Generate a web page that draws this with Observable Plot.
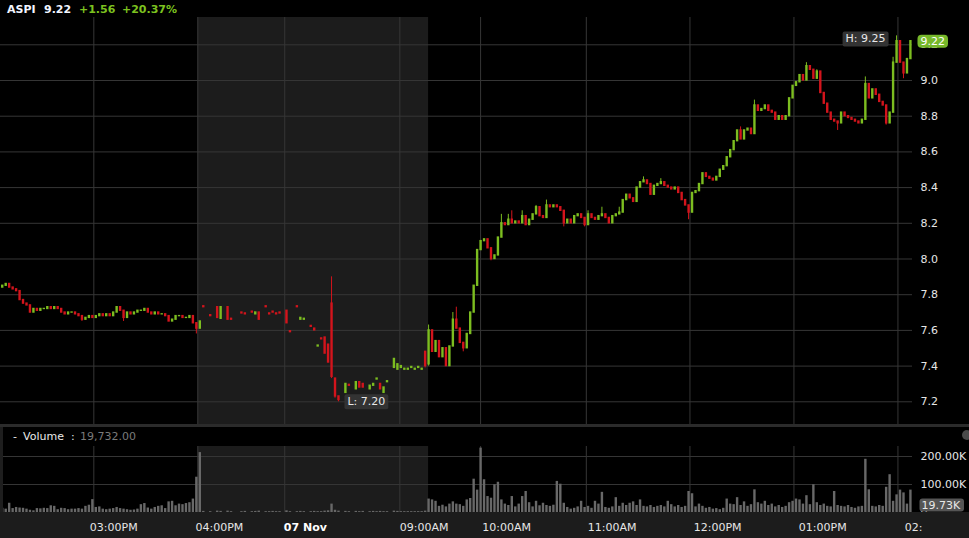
<!DOCTYPE html>
<html>
<head>
<meta charset="utf-8">
<script src="https://cdn.jsdelivr.net/npm/d3@7"></script>
<script src="https://cdn.jsdelivr.net/npm/@observablehq/plot@0.6"></script>
<style>
  html, body { margin: 0; padding: 0; background: #000; }
  #root { position: relative; width: 969px; height: 538px; background: #000; overflow: hidden;
          font-family: "DejaVu Sans", Verdana, sans-serif; }
  #hdr span { position: absolute; top: 1px; line-height: 17px; font-size: 11px; font-weight: bold; white-space: pre; }
  .sym { color: #f2f5ff; }
  .chg { color: #7cc21f; }
  #volhdr span { position: absolute; top: 427px; line-height: 20px; font-size: 11px; white-space: pre; }
</style>
</head>
<body>
<div id="root">
  <div id="hdr">
    <span class="sym" style="left:7px">ASPI</span>
    <span class="sym" style="left:44px">9.22</span>
    <span class="chg" style="left:79px">+1.56</span>
    <span class="chg" style="left:122px">+20.37%</span>
  </div>
  <div id="price" style="position:absolute;left:0;top:17px"></div>
  <div style="position:absolute;left:0;top:424px;width:969px;height:3px;background:#2b2b2b"></div>
  <div id="vol" style="position:absolute;left:0;top:427px"></div>
  <div id="xax" style="position:absolute;left:0;top:512px"></div>
  <div style="position:absolute;left:0;top:427px;width:3px;height:85px;background:#1e1e1e"></div>
  <div id="volhdr">
    <span style="left:13px;color:#e8e8e8">-</span>
    <span style="left:23px;color:#e8e8e8">Volume</span>
    <span style="left:71px;color:#e8e8e8">:</span>
    <span style="left:80px;color:#7a7a7a">19,732.00</span>
  </div>
  <div style="position:absolute;left:962px;top:430px;width:10px;height:10px;border-radius:50%;background:#4a4a4a"></div>
</div>
<script>
// ---------------- DATA ----------------
// x positions are bar slots (2‑minute bars on the chart's index axis)
const session1Start = 0;
const session1Open = 7.84;
const session1Close = [7.85,7.86,7.84,7.83,7.82,7.77,7.75,7.74,7.70,7.72,
  7.71,7.72,7.72,7.73,7.72,7.73,7.72,7.70,7.69,7.70,
  7.70,7.69,7.68,7.66,7.67,7.68,7.67,7.68,7.69,7.68,
  7.69,7.68,7.70,7.73,7.71,7.67,7.70,7.69,7.70,7.71,
  7.71,7.72,7.70,7.69,7.70,7.69,7.69,7.68,7.65,7.66,
  7.68,7.68,7.67,7.67,7.68,7.64,7.61,7.65];
const session1Volume = [15,12,33,14,18,16,15,12,8,6,14,13,15,14,24,22,10,15,14,10,
  12,12,14,12,22,26,46,18,20,12,10,12,14,18,14,12,10,8,9,12,
  28,32,16,12,18,22,24,14,38,40,24,30,28,32,35,48,126,214];

// after-hours sparse trades: [slot, open, close, high, low]
const afterHours = [
  [58,7.735,7.73],[60,7.685,7.68],[62,7.73,7.67],[63,7.665,7.73],[65,7.73,7.66],[66,7.665,7.66],
  [69,7.70,7.695],[70,7.695,7.69],[72,7.705,7.70],[73,7.69,7.70],[74,7.70,7.66],[76,7.735,7.73],
  [77,7.695,7.69],[78,7.705,7.70],[79,7.695,7.69],[80,7.70,7.695],[82,7.71,7.64],[83,7.595,7.59],
  [85,7.735,7.73],[86,7.66,7.67],[87,7.66,7.665],[89,7.625,7.62],[90,7.61,7.60],[91,7.51,7.515],
  [92,7.555,7.55],[93,7.56,7.47],[94,7.52,7.42],[95,7.75,7.34,7.90,7.33],[96,7.33,7.23,7.33,7.22],
  [97,7.23,7.21,7.23,7.20],[99,7.25,7.30],[100,7.295,7.29],[102,7.27,7.31],[103,7.31,7.28],
  [104,7.30,7.28],[106,7.27,7.29],[107,7.29,7.30],[108,7.325,7.33],[109,7.30,7.27],[110,7.25,7.28],
  [111,7.31,7.315],[113,7.39,7.44],[114,7.38,7.41],[115,7.39,7.40],[116,7.38,7.385],[117,7.38,7.385],
  [118,7.39,7.395],[119,7.38,7.385],[120,7.39,7.395],[121,7.38,7.385],[122,7.48,7.40,7.48,7.39]
];
const afterHoursVolume = [[58,4],[60,3],[62,5],[63,4],[65,5],[66,3],[69,3],[70,4],[72,3],[73,4],[74,5],
  [76,3],[77,3],[78,4],[79,3],[80,3],[82,6],[83,3],[85,3],[86,4],[87,3],[89,3],[90,4],[91,3],[92,3],
  [93,5],[94,6],[95,30],[96,8],[97,5],[99,4],[100,3],[102,4],[103,3],[104,4],[106,3],[107,4],[108,3],
  [109,4],[110,3],[111,3],[113,5],[114,4],[115,3],[116,3],[117,3],[118,3],[119,3],[120,3],[121,3],[122,5]];

const session2Start = 123;
const session2Open = 7.41;
const session2Close = [7.60,7.48,7.54,7.45,7.50,7.40,7.51,7.66,7.61,7.53,
  7.50,7.58,7.70,7.85,8.05,8.10,8.11,8.06,8.00,8.02,
  8.12,8.20,8.19,8.22,8.20,8.21,8.20,8.24,8.19,8.22,
  8.25,8.29,8.24,8.23,8.30,8.29,8.30,8.29,8.27,8.20,
  8.22,8.20,8.24,8.25,8.23,8.19,8.25,8.23,8.22,8.24,
  8.25,8.23,8.20,8.24,8.25,8.26,8.33,8.36,8.34,8.32,
  8.40,8.43,8.44,8.42,8.36,8.41,8.42,8.43,8.41,8.40,
  8.39,8.40,8.37,8.33,8.30,8.26,8.37,8.38,8.42,8.48,
  8.46,8.45,8.44,8.46,8.50,8.52,8.57,8.61,8.66,8.72,
  8.67,8.72,8.73,8.70,8.86,8.83,8.84,8.86,8.83,8.82,
  8.78,8.80,8.78,8.80,8.90,8.97,8.99,9.03,9.00,9.08,
  9.06,9.01,9.05,8.93,8.87,8.82,8.78,8.77,8.76,8.82,
  8.80,8.79,8.78,8.77,8.76,8.78,8.98,8.90,8.95,8.92,
  8.88,8.86,8.76,8.82,9.10,9.22,9.10,9.04,9.12,9.22];
const session2Volume = [48,45,40,22,26,20,30,38,30,28,
  22,45,50,119,80,230,117,57,51,99,
  108,45,30,25,57,20,30,57,75,35,
  20,40,24,33,25,22,26,111,101,33,
  18,12,15,20,40,18,22,15,40,30,
  72,18,15,20,53,22,33,25,33,38,
  25,45,22,20,25,18,22,25,20,40,
  28,20,25,18,22,75,67,20,30,22,
  15,18,12,14,10,15,48,30,28,53,
  25,38,22,28,81,35,30,40,25,30,
  20,25,18,22,35,40,48,45,30,60,
  28,99,35,25,30,22,20,75,25,22,
  20,25,18,15,20,22,190,81,22,20,
  25,22,90,135,40,63,80,70,30,80];

// wick extremes that reach beyond the bodies: [slot, high, low]
const wickExtremes = [[23,null,7.65],[35,null,7.65],[56,null,7.58],[123,7.63,7.40],[130,7.70,null],
  [131,7.73,null],[133,null,7.48],[141,null,7.99],[144,8.25,null],[146,8.25,null],[147,8.27,null],
  [150,8.27,null],[154,8.30,null],[157,8.33,null],[162,null,8.18],[168,null,8.18],[169,8.27,null],
  [173,8.29,null],[178,8.29,null],[185,8.46,null],[190,8.45,null],[198,null,8.22],[213,8.74,null],
  [217,8.89,null],[232,9.10,null],[235,9.06,null],[241,null,8.72],[249,9.02,null],[255,null,8.75],
  [257,9.13,null],[258,9.25,null],[260,null,9.01]];

const priceTicks = [7.2,7.4,7.6,7.8,8.0,8.2,8.4,8.6,8.8,9.0,9.2];
const volumeTicks = [0,100,200];           // thousands
const gridSlots = [26.42,56.42,81.5,114.7,138.0,168.5,198.4,228.4,258.4];
const labelSlots = [25.26,55.76,81.24,114.7,138.5,168.9,199.5,229.8,260.4];
const labelText = ["03:00PM","04:00PM","07 Nov","09:00AM","10:00AM","11:00AM","12:00PM","01:00PM","02:"];
const dateLabel = "07 Nov";
const afterHoursSpan = [56.42, 123.0];
const lastVolumeK = 19.73;

// ---------------- BUILD ROWS ----------------
const candles = [];
let prev = session1Open;
session1Close.forEach((c, i) => { candles.push({slot: session1Start + i, open: prev, close: c}); prev = c; });
afterHours.forEach(([slot, o, c, h, l]) => candles.push({slot, open: o, close: c, high: h, low: l}));
prev = session2Open;
session2Close.forEach((c, i) => { candles.push({slot: session2Start + i, open: prev, close: c}); prev = c; });
const wickMap = new Map(wickExtremes.map(d => [d[0], d]));
candles.forEach(d => {
  const w = wickMap.get(d.slot);
  d.high = Math.max(d.open, d.close, d.high ?? -Infinity, w && w[1] != null ? w[1] : -Infinity);
  d.low = Math.min(d.open, d.close, d.low ?? Infinity, w && w[2] != null ? w[2] : Infinity);
  d.top = Math.max(d.open, d.close);
  d.bot = Math.min(d.open, d.close);
});
const volumes = [];
session1Volume.forEach((v, i) => volumes.push({slot: session1Start + i, v}));
afterHoursVolume.forEach(([slot, v]) => volumes.push({slot, v}));
session2Volume.forEach((v, i) => volumes.push({slot: session2Start + i, v}));

const hiBar = candles.reduce((a, b) => (b.high > a.high ? b : a));
const loBar = candles.reduce((a, b) => (b.low < a.low ? b : a));
const last = candles[candles.length - 1];

const GREEN = "#7cbd20", RED = "#d3141c", GRID = "#363636", SHADE = "#1c1c1c";
const xDomain = [-0.5, 262.6];
const priceDomain = [7.0728, 9.3529];
const volDomain = [0, 303.57];
const volPanelTop = 235.7;
const base = {background: "transparent", color: "#e6e6e6", fontFamily: "DejaVu Sans, Verdana, sans-serif", fontSize: "11px"};

// ---------------- PRICE PANEL ----------------
const price = Plot.plot({
  width: 969, height: 407,
  marginLeft: 0, marginRight: 57, marginTop: 0, marginBottom: 0,
  style: {...base, overflow: "visible"},
  x: {domain: xDomain, axis: null},
  y: {domain: priceDomain, axis: "right", ticks: priceTicks, tickFormat: d => d.toFixed(1), tickSize: 0, tickPadding: 8, label: null},
  marks: [
    Plot.rect([afterHoursSpan], {x1: d => d[0], x2: d => d[1], y1: priceDomain[0], y2: priceDomain[1], fill: SHADE}),
    Plot.ruleY(priceTicks, {stroke: GRID}),
    Plot.ruleX(gridSlots, {stroke: GRID}),
    Plot.ruleX(candles, {x: "slot", y1: "high", y2: "low", stroke: d => d.close >= d.open ? GREEN : RED, strokeWidth: 1}),
    Plot.ruleX(candles, {x: "slot", y1: "top", y2: "bot", stroke: d => d.close >= d.open ? GREEN : RED, strokeWidth: 2.4, insetTop: -0.7, insetBottom: -0.7}),
    Plot.text([hiBar], {x: "slot", y: "high", text: d => `H: ${d.high.toFixed(2)}`, textAnchor: "end", dx: -11, dy: 3, fill: "#e8e8e8", fontSize: 11, ariaDescription: "hi-badge"}),
    Plot.text([loBar], {x: "slot", y: "low", text: d => `L: ${d.low.toFixed(2)}`, textAnchor: "start", dx: 9, dy: 0, fill: "#e8e8e8", fontSize: 11, ariaDescription: "lo-badge"}),
    Plot.text([last], {y: "close", text: d => d.close.toFixed(2), frameAnchor: "right", textAnchor: "start", dx: 8, fill: "#ffffff", fontSize: 11, ariaDescription: "last-badge"})
  ]
});
document.getElementById("price").append(price);

// ---------------- VOLUME PANEL ----------------
const vol = Plot.plot({
  width: 969, height: 85,
  marginLeft: 0, marginRight: 57, marginTop: 0, marginBottom: 0,
  style: {...base, overflow: "hidden"},
  x: {domain: xDomain, axis: null},
  y: {domain: volDomain, axis: "right", ticks: volumeTicks, tickFormat: d => d === 0 ? "0" : d.toFixed(2) + "K", tickSize: 0, tickPadding: 8, label: null},
  marks: [
    Plot.rect([afterHoursSpan], {x1: d => d[0], x2: d => d[1], y1: 0, y2: volPanelTop, fill: SHADE}),
    Plot.ruleX(gridSlots, {y1: 0, y2: volPanelTop, stroke: GRID}),
    Plot.ruleY([100, 200], {stroke: GRID}),
    Plot.ruleX(volumes, {x: "slot", y1: 0, y2: "v", stroke: "#686868", strokeWidth: 2.4}),
    Plot.text([lastVolumeK], {y: d => d, text: d => d.toFixed(2) + "K", frameAnchor: "right", textAnchor: "start", dx: 9, dy: -2, fill: "#e8e8e8", fontSize: 11, ariaDescription: "vol-badge"})
  ]
});
document.getElementById("vol").append(vol);

// ---------------- TIME AXIS STRIP ----------------
const timeRows = labelSlots.map((s, i) => ({slot: s, label: labelText[i]}));
const xax = Plot.plot({
  width: 969, height: 26,
  marginLeft: 0, marginRight: 57, marginTop: 0, marginBottom: 0,
  style: {...base, background: "#1c1c1c", overflow: "hidden"},
  x: {domain: xDomain, axis: null},
  marks: [
    Plot.text(timeRows.filter(d => d.label !== dateLabel), {x: "slot", text: "label", textAnchor: "start", dy: 2, fill: "#e6e6e6", fontSize: 11}),
    Plot.text(timeRows.filter(d => d.label === dateLabel), {x: "slot", text: "label", textAnchor: "start", dy: 2, fill: "#ffffff", fontSize: 11, fontWeight: "bold"})
  ]
});
document.getElementById("xax").append(xax);

// ---------------- BADGE BACKGROUNDS ----------------
function badge(svg, label, fill, padL, padR, padY, rx) {
  svg.querySelectorAll(`g[aria-description="${label}"] text`).forEach(t => {
    const b = t.getBBox();
    const r = document.createElementNS("http://www.w3.org/2000/svg", "rect");
    r.setAttribute("x", b.x - padL);
    r.setAttribute("y", b.y - padY);
    r.setAttribute("width", b.width + padL + padR);
    r.setAttribute("height", b.height + 2 * padY);
    r.setAttribute("rx", rx);
    r.setAttribute("fill", fill);
    const tr = t.getAttribute("transform");
    if (tr) r.setAttribute("transform", tr);
    t.parentNode.insertBefore(r, t);
  });
}
badge(price, "hi-badge", "#333333", 3, 3, 1, 2);
badge(price, "lo-badge", "#333333", 3, 3, 1, 2);
badge(price, "last-badge", "#76b82a", 3, 3, 0, 4);
badge(vol, "vol-badge", "#555555", 2, 3, 0, 3);
</script>
</body>
</html>
